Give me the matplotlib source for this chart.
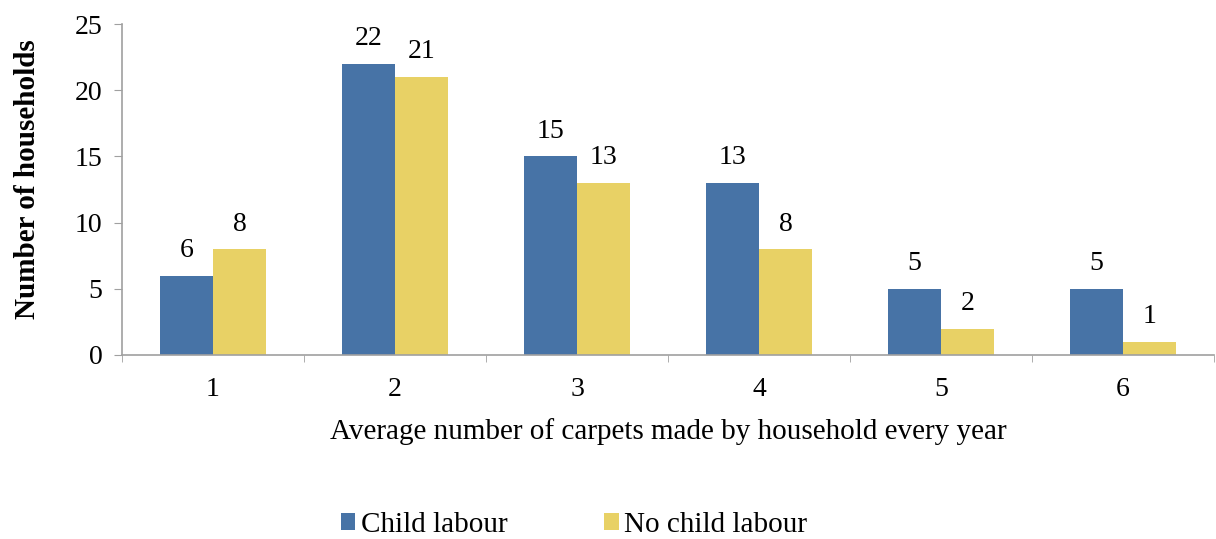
import matplotlib
matplotlib.use("Agg")
import matplotlib.pyplot as plt
import numpy as np

categories = ["1", "2", "3", "4", "5", "6"]
child_labour = [6, 22, 15, 13, 5, 5]
no_child_labour = [8, 21, 13, 8, 2, 1]
series_names = ["Child labour", "No child labour"]
yticks = [0, 5, 10, 15, 20, 25]

plt.rcParams['font.family'] = ['Liberation Serif', 'DejaVu Serif']

fig = plt.figure(figsize=(12.16, 5.39), dpi=100)
ax = fig.add_axes([122/1216, 1-355/539, (1214-122)/1216, (355-24)/539])

x = np.arange(len(categories))
w = 0.29
c1 = "#4773A6"
c2 = "#E8D165"
b1 = ax.bar(x - w/2, child_labour, w, color=c1, label=series_names[0])
b2 = ax.bar(x + w/2, no_child_labour, w, color=c2, label=series_names[1])

for bars, vals in ((b1, child_labour), (b2, no_child_labour)):
    for r, v in zip(bars, vals):
        ax.annotate(str(v), (r.get_x() + r.get_width()/2, v), xytext=(0, 9),
                    textcoords="offset points", ha="center", va="bottom", fontsize=20)

ax.set_xlim(-0.5, len(categories) - 0.5)
ax.set_ylim(0, 25)
ax.set_yticks(yticks)
ax.set_xticks(x)
ax.set_xticklabels(categories)
ax.set_xticks(np.arange(-0.5, len(categories) + 0.5, 1), minor=True)
ax.tick_params(axis='x', which='major', length=0, labelsize=20, pad=16)
ax.tick_params(axis='x', which='minor', length=5, color="#A0A0A0", direction='out')
ax.tick_params(axis='y', length=6, color="#A0A0A0", labelsize=20, pad=8)

for s in ['top', 'right']:
    ax.spines[s].set_visible(False)
for s in ['left', 'bottom']:
    ax.spines[s].set_color("#A0A0A0")
    ax.spines[s].set_linewidth(1.2)

ax.set_xlabel("Average number of carpets made by household every year", fontsize=21)
ax.xaxis.set_label_coords(0.5, -0.19)
ax.set_ylabel("Number of households", fontsize=21, fontweight='bold')
ax.yaxis.set_label_coords(-0.074, 0.53)

fig.legend(handles=[b1, b2], labels=series_names, loc='center',
           bbox_to_anchor=(574/1216, 1-525/539), ncol=2, frameon=False,
           fontsize=21, handlelength=0.5, handleheight=0.5, handletextpad=0.2,
           columnspacing=3.3)

fig.savefig("out.png", dpi=100)
